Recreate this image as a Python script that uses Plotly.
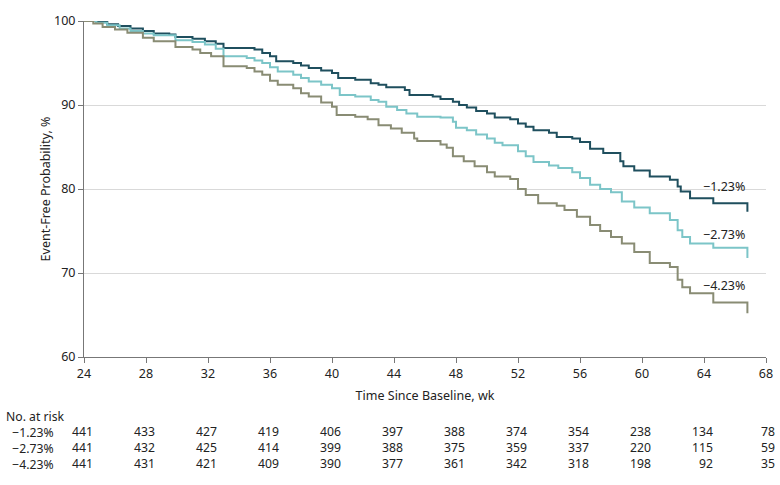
import plotly.graph_objects as go

# Kaplan-Meier step data (weeks, event-free %)
t_123 = [24.0, 24.8, 25.5, 26.2, 27.0, 27.8, 28.5, 29.5, 29.9, 31.0, 31.8, 32.5, 33.0, 35.0, 35.5, 36.0, 36.4,
         37.5, 38.0, 38.5, 39.3, 40.0, 40.4, 41.5, 42.5, 43.0, 43.5, 44.7, 45.0, 46.5, 47.0, 47.8, 48.2,
         48.7, 49.3, 50.0, 50.5, 51.5, 52.0, 52.5, 53.0, 54.0, 54.5, 55.5, 56.0, 56.65, 57.5, 58.6, 58.8,
         59.5, 60.5, 61.8, 62.3, 62.5, 63.1, 64.6, 66.8]
s_123 = [100.0, 99.9, 99.6, 99.4, 99.1, 98.8, 98.5, 98.4, 98.1, 97.9, 97.6, 97.3, 96.8, 96.6, 96.2, 95.8, 95.2,
         95.0, 94.7, 94.4, 94.1, 93.8, 93.2, 93.0, 92.6, 92.4, 92.1, 91.8, 91.2, 91.0, 90.7, 90.4, 90.0,
         89.7, 89.3, 89.0, 88.5, 88.3, 87.8, 87.4, 87.0, 86.7, 86.2, 86.0, 85.6, 84.8, 84.3, 83.3, 82.7,
         82.2, 81.5, 81.1, 80.3, 79.7, 78.9, 78.3, 77.3]

t_273 = [24.0, 24.8, 25.5, 26.3, 27.0, 27.8, 28.5, 29.9, 31.0, 31.8, 32.5, 33.0, 34.5, 35.0, 35.5, 36.0, 36.5,
         37.5, 38.0, 38.5, 39.3, 40.0, 40.5, 41.5, 42.5, 43.0, 43.5, 44.2, 44.8, 45.5, 47.0, 47.8, 48.0,
         48.7, 49.3, 50.0, 50.5, 51.0, 52.0, 52.5, 53.0, 54.0, 54.6, 55.5, 56.0, 56.65, 57.3, 58.0, 58.7,
         59.5, 60.5, 61.8, 62.3, 62.6, 63.1, 64.6, 66.8]
s_273 = [100.0, 99.8, 99.5, 99.1, 98.8, 98.5, 98.3, 97.7, 97.5, 97.2, 96.7, 95.8, 95.6, 95.3, 95.0, 94.5, 94.0,
         93.6, 93.2, 92.8, 92.4, 92.0, 91.2, 91.0, 90.6, 90.4, 89.8, 89.4, 89.0, 88.6, 88.5, 88.0, 87.3,
         87.0, 86.5, 86.0, 85.5, 85.2, 84.5, 83.9, 83.2, 82.8, 82.5, 82.0, 81.3, 80.5, 80.0, 79.6, 78.5,
         77.8, 77.1, 76.3, 75.1, 74.3, 73.5, 73.0, 71.8]

t_423 = [24.0, 24.6, 25.2, 26.0, 26.8, 27.8, 28.5, 29.9, 31.0, 31.5, 32.2, 33.0, 34.5, 35.0, 35.5, 36.0, 36.5,
         37.5, 38.0, 38.5, 39.3, 40.0, 40.3, 41.5, 42.3, 43.0, 43.8, 44.5, 45.3, 45.5, 47.0, 47.4, 47.8,
         48.5, 49.2, 50.0, 50.5, 51.5, 52.0, 52.5, 53.3, 54.5, 55.0, 55.8, 56.65, 57.3, 58.0, 58.7, 59.5,
         60.5, 61.8, 62.3, 62.6, 63.1, 64.6, 66.8]
s_423 = [100.0, 99.7, 99.3, 99.0, 98.6, 98.0, 97.6, 96.9, 96.6, 96.2, 95.8, 94.6, 94.4, 94.0, 93.6, 92.9, 92.4,
         92.0, 91.4, 91.0, 90.3, 89.8, 88.8, 88.6, 88.3, 87.6, 87.2, 86.7, 86.0, 85.7, 85.3, 84.9, 83.9,
         83.3, 82.7, 82.0, 81.5, 81.2, 80.0, 79.3, 78.3, 78.0, 77.5, 76.7, 75.7, 75.0, 74.3, 73.5, 72.5,
         71.2, 70.7, 69.2, 68.3, 67.6, 66.5, 65.2]

group_labels = ["\u22121.23%", "\u22122.73%", "\u22124.23%"]
label_y = [79.0, 73.3, 67.3]
risk_weeks = [24, 28, 32, 36, 40, 44, 48, 52, 56, 60, 64, 68]
risk_123 = [441, 433, 427, 419, 406, 397, 388, 374, 354, 238, 134, 78]
risk_273 = [441, 432, 425, 414, 399, 388, 375, 359, 337, 220, 115, 59]
risk_423 = [441, 431, 421, 409, 390, 377, 361, 342, 318, 198, 92, 35]

x_ticks = [24, 28, 32, 36, 40, 44, 48, 52, 56, 60, 64, 68]
y_ticks = [60, 70, 80, 90, 100]

colors = ["#1f4f5e", "#7cc5c8", "#898c74"]
FONT = "Noto Sans"
TXT = "#222222"
FS = 12.5
FT = 12.2

fig = go.Figure()
for t, s, c, name in zip([t_123, t_273, t_423], [s_123, s_273, s_423], colors, group_labels):
    fig.add_trace(go.Scatter(x=t, y=s, mode="lines", line=dict(shape="hv", color=c, width=2),
                             name=name, showlegend=False, hoverinfo="skip"))

annotations = []
for lab, yv in zip(group_labels, label_y):
    annotations.append(dict(x=66.8, y=yv, xref="x", yref="y", text=lab, showarrow=False,
                            xanchor="right", yanchor="bottom", font=dict(size=FS, color=TXT, family=FONT)))

# Risk table: left header column (one multi-line block)
left_text = "No. at risk<br>" + "<br>".join("\u00a0\u00a0" + g for g in group_labels)
annotations.append(dict(x=-0.116, y=-0.2485, xref="paper", yref="paper", text=left_text, showarrow=False,
                        xanchor="left", yanchor="middle", align="left", borderpad=0,
                        font=dict(size=FT, color=TXT, family=FONT)))
# number columns (one multi-line block per time point)
for i, wk in enumerate(risk_weeks):
    col = "<br>".join(str(r[i]) for r in (risk_123, risk_273, risk_423))
    annotations.append(dict(x=wk, y=-0.2708, xref="x", yref="paper", text=col, showarrow=False,
                            xanchor="right", xshift=10, yanchor="middle", align="right", borderpad=0,
                            font=dict(size=FT, color=TXT, family=FONT)))

fig.update_layout(
    width=780, height=485,
    margin=dict(l=84, r=14, t=21, b=128),
    plot_bgcolor="white", paper_bgcolor="white",
    font=dict(family=FONT, size=FS, color=TXT),
    annotations=annotations,
    xaxis=dict(range=[24, 68], tickvals=x_ticks, showgrid=False, showline=True, linecolor="#777",
               linewidth=1, ticks="outside", tickcolor="#777", ticklen=5, zeroline=False, automargin=False,
               title=dict(text="Time Since Baseline, wk", standoff=10, font=dict(size=12.5)),
               tickfont=dict(size=FS)),
    yaxis=dict(range=[60, 100], tickvals=y_ticks, showgrid=True, gridcolor="#d9d9d9", gridwidth=1,
               showline=True, linecolor="#777", linewidth=1, ticks="outside", tickcolor="#777", ticklen=5,
               zeroline=False, automargin=False,
               title=dict(text="Event-Free Probability, %", standoff=0, font=dict(size=12.5)),
               tickfont=dict(size=FS)),
)

fig.write_html("out.html", config={"displayModeBar": False},
               post_script="document.body.style.margin='0';")
